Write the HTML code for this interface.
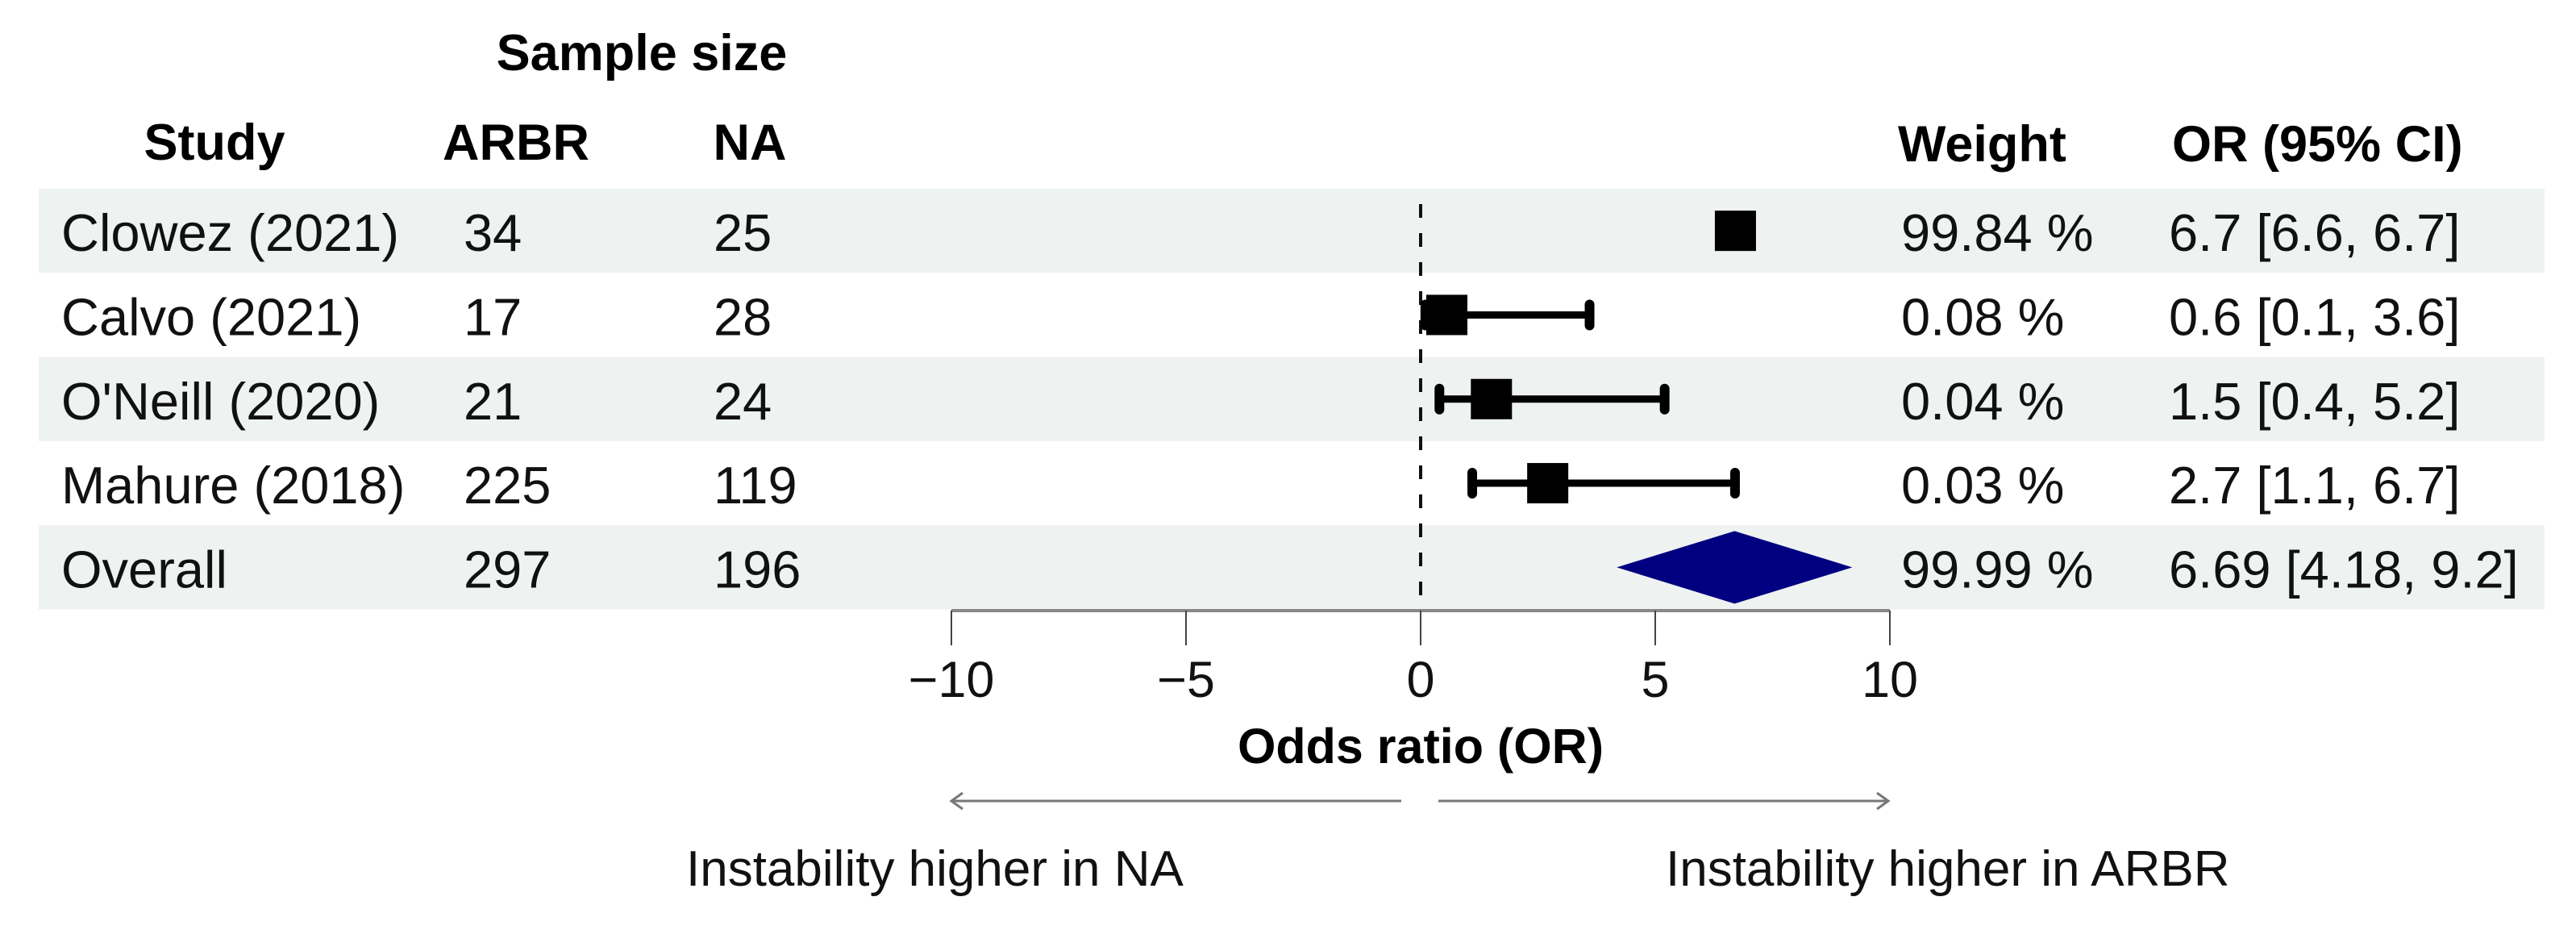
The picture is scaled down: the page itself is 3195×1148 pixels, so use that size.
<!DOCTYPE html>
<html><head><meta charset="utf-8"><style>
html,body{margin:0;padding:0;background:#fff;}
svg{display:block;font-family:"Liberation Sans",Arial,sans-serif;}
</style></head><body>
<svg id="chart" width="3195" height="1148" viewBox="0 0 3195 1148" xmlns="http://www.w3.org/2000/svg">
<g id="bands"></g>
<g id="headers" font-weight="bold" font-size="63" fill="#000">
<text x="796" y="87" text-anchor="middle">Sample size</text>
<text x="266" y="198" text-anchor="middle">Study</text>
<text x="640" y="198" text-anchor="middle">ARBR</text>
<text x="930" y="198" text-anchor="middle">NA</text>
<text x="2354" y="200">Weight</text>
<text x="2694" y="200">OR (95% CI)</text>
</g>
<g id="rows" font-size="65" fill="#111"></g>
<g id="marks"></g>
<g id="axis"></g>
<text x="1762" y="946" text-anchor="middle" font-size="61" font-weight="bold">Odds ratio (OR)</text>
<g stroke="#777" stroke-width="3" fill="none">
<line x1="1180" y1="993" x2="1738" y2="993"/><polyline points="1194,983 1180,993 1194,1003"/>
<line x1="1784" y1="993" x2="2342" y2="993"/><polyline points="2328,983 2342,993 2328,1003"/>
</g>
<text x="851" y="1098" font-size="62" fill="#111">Instability higher in NA</text>
<text x="2066" y="1098" font-size="62" fill="#111">Instability higher in ARBR</text>
</svg>
<script>
const studies = ["Clowez (2021)", "Calvo (2021)", "O'Neill (2020)", "Mahure (2018)", "Overall"];
const arbrN = [34, 17, 21, 225, 297];
const naN = [25, 28, 24, 119, 196];
const orVals = [6.7, 0.55, 1.5, 2.7, 6.69];
const lowerCI = [6.6, 0.1, 0.4, 1.1, 4.18];
const upperCI = [6.7, 3.6, 5.2, 6.7, 9.2];
const weights = ["99.84 %", "0.08 %", "0.04 %", "0.03 %", "99.99 %"];
const orLabels = ["6.7 [6.6, 6.7]", "0.6 [0.1, 3.6]", "1.5 [0.4, 5.2]", "2.7 [1.1, 6.7]", "6.69 [4.18, 9.2]"];
const ticks = [-10, -5, 0, 5, 10];

const NS = "http://www.w3.org/2000/svg";
const X0 = 1762, UNIT = 58.2, ROW0 = 234, ROWH = 104.3;
const xs = v => X0 + v * UNIT;
const rowTop = i => ROW0 + i * ROWH;
const rowMid = i => rowTop(i) + ROWH / 2;
function mk(tag, attrs, parent) {
  const e = document.createElementNS(NS, tag);
  for (const k in attrs) e.setAttribute(k, attrs[k]);
  parent.appendChild(e); return e;
}
const bands = document.getElementById('bands');
const rows = document.getElementById('rows');
const marks = document.getElementById('marks');
const axis = document.getElementById('axis');

studies.forEach((s, i) => {
  if (i % 2 === 0) {
    const b = mk('rect', {x: 48, y: rowTop(i), width: 3108, height: ROWH, fill: '#eef2f1'}, bands);
    
    
  }
  const base = rowMid(i) + 25;
  const cells = [[s, 76, 'study-name'], [String(arbrN[i]), 575, 'arbr-n'], [String(naN[i]), 885, 'na-n'], [weights[i], 2358, 'weight-value'], [orLabels[i], 2690, 'or-ci-value']];
  cells.forEach(c => {
    const t = mk('text', {x: c[1], y: base}, rows);
    t.textContent = c[0];
    
    
  });
});

const zl = mk('line', {x1: xs(0), y1: 253, x2: xs(0), y2: 757, stroke: '#111', 'stroke-width': 4, 'stroke-dasharray': '17 19'}, marks);



studies.forEach((s, i) => {
  const cy = rowMid(i);
  if (i === studies.length - 1) {
    const d = mk('polygon', {points: `${xs(lowerCI[i])},${cy} ${xs(orVals[i])},${cy-45} ${xs(upperCI[i])},${cy} ${xs(orVals[i])},${cy+45}`, fill: '#000080'}, marks);
    
    
    return;
  }
  const g = mk('g', {}, marks);
  
  
  if (upperCI[i] - lowerCI[i] > 0.2) {
    mk('line', {x1: xs(lowerCI[i]), y1: cy, x2: xs(upperCI[i]), y2: cy, stroke: '#000', 'stroke-width': 9}, g);
    [lowerCI[i], upperCI[i]].forEach(v => mk('line', {x1: xs(v), y1: cy-13, x2: xs(v), y2: cy+13, stroke: '#000', 'stroke-width': 12, 'stroke-linecap': 'round'}, g));
  }
  mk('rect', {x: xs(orVals[i]) - 25, y: cy - 25, width: 51, height: 50, fill: '#000'}, g);
});

const al = mk('line', {x1: xs(-10), y1: 757, x2: xs(10), y2: 757, stroke: '#888', 'stroke-width': 4}, axis);


ticks.forEach(t => {
  const tk = mk('line', {x1: xs(t), y1: 757, x2: xs(t), y2: 800, stroke: '#444', 'stroke-width': 2}, axis);
  
  
  const lb = mk('text', {x: xs(t), y: 864, 'text-anchor': 'middle', 'font-size': 63, fill: '#111'}, axis);
  lb.textContent = t < 0 ? '\u2212' + Math.abs(t) : String(t);
  
  
});
</script>
</body></html>
